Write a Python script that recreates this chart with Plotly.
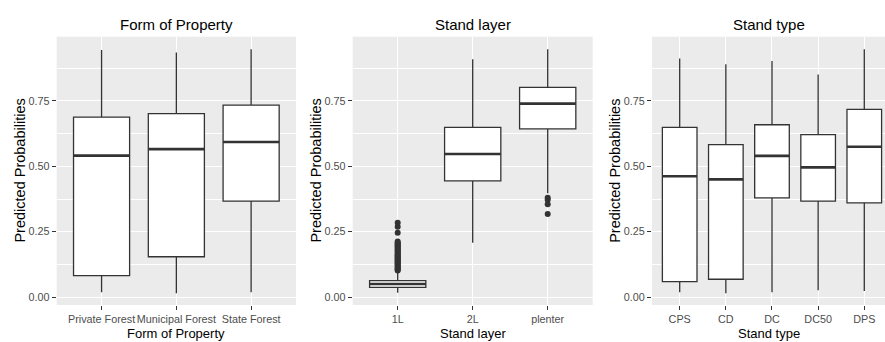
import plotly.graph_objects as go

# ---------------- data ----------------
prop_cats = ["Private Forest", "Municipal Forest", "State Forest"]
prop_lower = [0.018, 0.014, 0.018]
prop_q1 = [0.082, 0.154, 0.367]
prop_med = [0.541, 0.566, 0.593]
prop_q3 = [0.688, 0.702, 0.734]
prop_upper = [0.945, 0.936, 0.948]

layer_cats = ["1L", "2L", "plenter"]
layer_lower = [0.016, 0.208, 0.397]
layer_q1 = [0.037, 0.444, 0.643]
layer_med = [0.050, 0.547, 0.740]
layer_q3 = [0.063, 0.649, 0.802]
layer_upper = [0.098, 0.910, 0.948]
out_1L = [0.101, 0.104, 0.108, 0.112, 0.116, 0.120, 0.124, 0.128, 0.132, 0.136,
          0.140, 0.144, 0.148, 0.152, 0.156, 0.160, 0.164, 0.168, 0.172, 0.176,
          0.180, 0.184, 0.188, 0.192, 0.196, 0.200, 0.204, 0.208, 0.212,
          0.246, 0.269, 0.284]
out_plenter = [0.380, 0.372, 0.355, 0.318]

type_cats = ["CPS", "CD", "DC", "DC50", "DPS"]
type_lower = [0.018, 0.014, 0.018, 0.026, 0.023]
type_q1 = [0.059, 0.068, 0.379, 0.367, 0.360]
type_med = [0.462, 0.450, 0.540, 0.496, 0.575]
type_q3 = [0.649, 0.583, 0.659, 0.621, 0.718]
type_upper = [0.913, 0.891, 0.903, 0.851, 0.948]

y_tickvals = [0, 0.25, 0.5, 0.75]
y_ticktext = ["0.00", "0.25", "0.50", "0.75"]
y_minor = [0.125, 0.375, 0.625, 0.875]

titles = ["Form of Property", "Stand layer", "Stand type"]
ytitle = "Predicted Probabilities"

# ---------------- styling ----------------
FONT = "Liberation Sans, Arial, sans-serif"
DARK = "#333333"
BOXW = 0.75
W, H = 885, 342

panels = [
    dict(cats=prop_cats, lo=prop_lower, q1=prop_q1, med=prop_med, q3=prop_q3, hi=prop_upper,
         dom=[56.7 / W, 296 / W], xr=[0.4, 3.6], outl={}),
    dict(cats=layer_cats, lo=layer_lower, q1=layer_q1, med=layer_med, q3=layer_q3, hi=layer_upper,
         dom=[352.7 / W, 592.7 / W], xr=[0.4, 3.6], outl={1: out_1L, 3: out_plenter}),
    dict(cats=type_cats, lo=type_lower, q1=type_q1, med=type_med, q3=type_q3, hi=type_upper,
         dom=[652 / W, 1.0], xr=[0.4, 0.4 + 233 / 46.15], outl={}),
]

ydom = [1 - 305 / H, 1 - 36.7 / H]
yrange = [-0.0306, 0.996]

fig = go.Figure()
annotations = []
layout = {}

for i, p in enumerate(panels):
    k = "" if i == 0 else str(i + 1)
    xa, ya = "x" + k, "y" + k
    pos = list(range(1, len(p["cats"]) + 1))
    fig.add_trace(go.Box(
        x=pos, q1=p["q1"], median=p["med"], q3=p["q3"],
        lowerfence=p["lo"], upperfence=p["hi"],
        width=BOXW, whiskerwidth=0, fillcolor="white",
        line=dict(color=DARK, width=1.3), boxpoints=False,
        xaxis=xa, yaxis=ya, showlegend=False, hoverinfo="skip"))
    # thick median lines (ggplot fatten)
    for x0, m in zip(pos, p["med"]):
        fig.add_trace(go.Scatter(
            x=[x0 - BOXW / 2, x0 + BOXW / 2], y=[m, m], mode="lines",
            line=dict(color=DARK, width=2.6), xaxis=xa, yaxis=ya,
            showlegend=False, hoverinfo="skip"))
    for x0, vals in p["outl"].items():
        fig.add_trace(go.Scatter(
            x=[x0] * len(vals), y=vals, mode="markers",
            marker=dict(color=DARK, size=6), xaxis=xa, yaxis=ya,
            showlegend=False, hoverinfo="skip"))

    layout["xaxis" + k] = dict(
        domain=p["dom"], anchor=ya, range=p["xr"], tickvals=pos, ticktext=p["cats"],
        showgrid=True, gridcolor="white", gridwidth=1.4, zeroline=False,
        ticks="outside", ticklen=4, tickcolor=DARK, tickwidth=1, tickangle=0,
        tickfont=dict(family=FONT, size=10.8, color="#4D4D4D"),
        showline=False, fixedrange=True, automargin=False)
    layout["yaxis" + k] = dict(
        domain=ydom, anchor=xa, range=yrange, tickvals=y_tickvals, ticktext=y_ticktext,
        showgrid=True, gridcolor="white", gridwidth=1.4, zeroline=False,
        ticks="outside", ticklen=4, tickcolor=DARK, tickwidth=1,
        tickfont=dict(family=FONT, size=10.8, color="#4D4D4D"),
        minor=dict(tickvals=y_minor, showgrid=True, gridcolor="white", gridwidth=0.7, ticks=""),
        showline=False, fixedrange=True, automargin=False)

    cx = (p["dom"][0] + min(p["dom"][1], (p["dom"][0] * W + 240) / W)) / 2
    annotations.append(dict(text=titles[i], x=cx, y=1 - 24 / H, xref="paper", yref="paper",
                            xanchor="center", yanchor="middle", showarrow=False,
                            font=dict(family=FONT, size=15, color="black")))
    annotations.append(dict(text=titles[i], x=cx, y=1 - 333.5 / H, xref="paper", yref="paper",
                            xanchor="center", yanchor="middle", showarrow=False,
                            font=dict(family=FONT, size=13, color="black")))
    annotations.append(dict(text=ytitle, x=(p["dom"][0] * W - 37) / W, y=(ydom[0] + ydom[1]) / 2,
                            xref="paper", yref="paper", textangle=-90,
                            xanchor="center", yanchor="middle", showarrow=False,
                            font=dict(family=FONT, size=14.5, color="black")))

fig.update_layout(
    width=W, height=H, margin=dict(l=0, r=0, t=0, b=0),
    paper_bgcolor="white", plot_bgcolor="#EBEBEB",
    annotations=annotations, **layout)

fig.write_html("out.html", config={"displayModeBar": False},
               post_script="document.body.style.margin='0';")
